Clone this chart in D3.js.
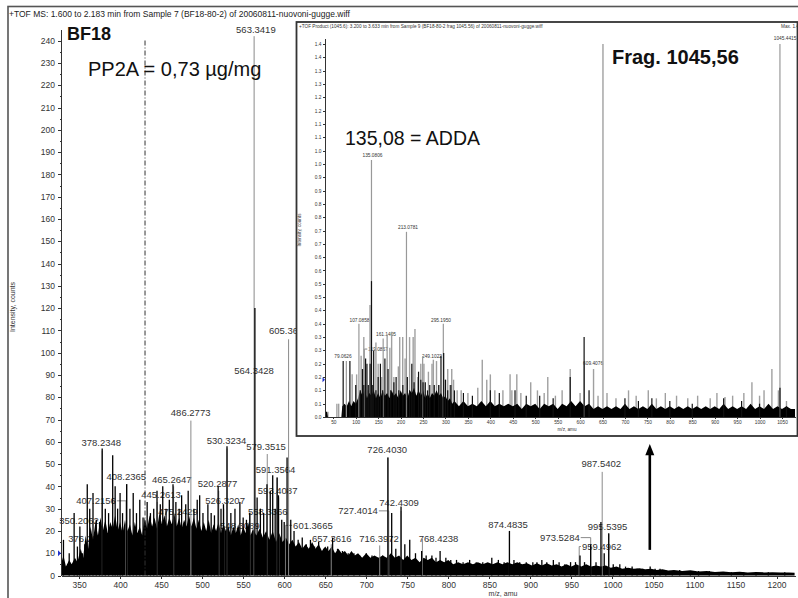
<!DOCTYPE html>
<html>
<head>
<meta charset="utf-8">
<script src="https://cdn.jsdelivr.net/npm/d3@7/dist/d3.min.js"></script>
<style>
body { margin: 0; background: #fff; }
text { font-family: "Liberation Sans", Arial, sans-serif; }
.axis path, .axis line { stroke: #333; shape-rendering: crispEdges; }
.axis text { fill: #333; }
</style>
</head>
<body>
<div class="container"></div>
<script>
// ---- main spectrum (TOF MS, BF18) ----
var mainXTicks = [350,400,450,500,550,600,650,700,750,800,850,900,950,1000,1050,1100,1150,1200];
var mainYTicks = [0,10,20,30,40,50,60,70,80,90,100,110,120,130,140,150,160,170,180,190,200,210,220,230,240];

// profile envelope [m/z, counts]
var mainProfile = [[328,5],[331,9],[334,4],[338,7],[341,5],[345,8],[348,6],[352,12],[355,8],[358,18],[361,12],[364,22],[367,16],[370,24],[373,18],[376,26],[379,20],[382,25],[385,19],[388,24],[391,21],[394,27],[397,20],[400,24],[403,19],[406,25],[409,20],[412,23],[415,18],[418,24],[421,19],[424,22],[427,18],[430,26],[433,21],[436,27],[439,22],[442,26],[445,21],[448,28],[451,23],[454,27],[457,22],[460,26],[463,23],[466,28],[469,22],[472,26],[475,21],[478,25],[481,22],[484,27],[487,22],[490,26],[493,21],[496,25],[499,20],[502,24],[505,20],[508,25],[511,19],[514,23],[517,20],[520,24],[523,19],[526,23],[529,20],[532,22],[535,18],[538,22],[541,19],[544,23],[547,18],[550,22],[553,19],[556,24],[559,18],[562,21],[566,18],[570,21],[574,17],[578,20],[582,16],[586,20],[590,15],[594,19],[598,15],[602,17],[606,14],[610,16],[614,13],[618,15],[622,12],[626,14],[630,12],[634,15],[638,12],[642,14],[646,11],[650,13],[654,11],[658,13],[662,10],[666,12],[670,10],[674,11],[678,9],[682,11],[686,9],[690,10],[695,8],[700,10],[705,8],[710,9],[715,8],[720,9],[725,8],[730,10],[735,8],[740,9],[745,7],[750,9],[755,7],[760,8],[765,6],[770,8],[775,7],[780,8],[785,6],[790,7],[795,6],[800,7],[806,5],[812,6],[818,5],[824,6],[830,5],[836,6],[842,5],[848,6],[854,5],[860,6],[866,5],[872,6],[878,5],[884,6],[890,5],[896,5.5],[902,4.5],[908,5.5],[914,4.5],[920,5.5],[926,4.5],[932,5],[938,4],[944,5],[950,4],[956,5],[962,4],[968,5],[974,4],[980,4.5],[986,4],[992,4.5],[998,3.5],[1005,4],[1012,3],[1019,3.5],[1026,3],[1033,3.2],[1040,2.8],[1047,3],[1054,2.5],[1061,2.8],[1068,2.2],[1075,2.5],[1085,2],[1095,2.3],[1105,1.8],[1115,2],[1125,1.6],[1135,1.8],[1145,1.5],[1155,1.7],[1165,1.4],[1175,1.6],[1185,1.4],[1195,1.5],[1205,1.3],[1215,1.4],[1222,1.2]];

// black profile peaks [m/z, counts]
var mainPeaks = [[331,16],[338,10],[344,28],[348,13],[351,22],[354,10],[357,14],[360,41],[363,30],[367,37],[371,25],[375,24],[378.2,57],[382,30],[386,28],[391,54],[394,40],[397,30],[400,37],[403,28],[408,41],[412,30],[416,37],[420,28],[424,34],[428,26],[433,33],[437,28],[441,30],[445,38],[449,32],[452,40],[456,30],[460,34],[464.5,41],[468,33],[472,30],[475,36],[480,32],[483,38],[490,30],[494,34],[497,36],[501,28],[507,32],[511,28],[515,27],[519.5,40],[523,30],[526,32],[530.3,58],[535,28],[540,30],[546,33],[550,26],[554,25],[558,28],[564.3,120],[567,35],[571,30],[575,28],[579,41],[583,38],[586,45],[589,30],[591.4,44],[593,36],[597,25],[600,24],[603.5,53],[608,25],[612,20],[617,16],[622,17],[627,14],[632,16],[637,13],[642,15],[648,12],[653,13],[659,17],[665,12],[671,11],[678,10],[685,10],[692,9],[700,10],[707,9],[714,8],[720,9],[726.4,53],[731,28],[736,12],[742.4,31],[747,14],[753,16],[760,10],[767.5,11],[773,9],[780,9],[785,8],[790,11],[797,8],[803,7],[810,7],[818,6],[826,7],[834,6],[842,6],[853,8],[861,7],[868,6],[874.5,20],[880,7],[887,6],[895,6],[903,6],[908,6],[914,7],[920,6],[928,7],[935,6],[942,5],[949,6],[955,6],[960.5,9],[966,6],[973.5,14],[980,6],[986,24],[990,10],[995.5,19],[1001,5],[1009,5],[1016,4],[1024,4],[1030,3],[1037,3],[1046,4],[1052,3],[1058,3],[1065,2.5],[1073,2],[1082,2.5],[1095,2],[1105,2],[1118,2],[1130,1.5],[1145,1.5],[1160,1.5],[1175,1.5],[1190,1.5],[1210,1.5]];

// peak labels [text, peak m/z, centroid height, label m/z, label height]
var mainLabels = [
  ["563.3419",563.34,242,565.5,243.5],
  ["564.3428",564.34,0,563.2,90.4],
  ["605.3609",605.36,106,605.5,108.4],
  ["486.2773",486.28,69.5,486,71.6],
  ["378.2348",378.23,56,377,58],
  ["530.3234",530.32,57,529.7,59],
  ["579.3515",579.35,54.5,577.8,56.3],
  ["591.3564",591.36,44,589.4,46],
  ["593.4087",593.41,35,592,36.6],
  ["726.4030",726.40,53,725.5,55],
  ["742.4309",742.43,29,740,31],
  ["727.4014",727.40,29,690,27.6],
  ["716.3972",716.40,13.5,715.5,15],
  ["768.4238",768.42,16.5,788,15],
  ["874.4835",874.48,19.5,872.7,21.3],
  ["973.5284",973.53,17,936,15.5],
  ["987.5402",987.54,46.5,986.4,48.7],
  ["995.5395",995.54,18.5,994,20.4],
  ["959.4962",959.50,13,987,11.5],
  ["408.2365",408.24,41,407.5,42.8],
  ["407.2156",407.22,33.5,370.7,32],
  ["445.2613",445.26,33,449.9,34.8],
  ["465.2647",465.26,40,463,41.5],
  ["520.2877",520.29,38,518.7,39.7],
  ["526.3207",526.32,30,528,32],
  ["558.3366",558.34,28.5,580,27],
  ["601.3665",601.37,22.5,635,20.9],
  ["657.3616",657.36,14,658,15],
  ["350.2062",350.21,0,350,23],
  ["376.2049",376.20,0,361,15],
  ["475.2429",475.24,0,470.6,27],
  ["548.3089",548.31,0,546,21]
];

var precursorMz = 1045.56;        // arrow
var arrowFrom = 11.5, arrowTo = 59;
var windowMz = 430.4;             // dash-dot marker
var mainMarkerInt = 10;

// ---- inset (product ion spectrum of 1045.56) ----
var insetXTicks = [50,100,150,200,250,300,350,400,450,500,550,600,650,700,750,800,850,900,950,1000,1050];
var insetYTicks = [0,0.05,0.1,0.15,0.2,0.25,0.3,0.35,0.4,0.45,0.5,0.55,0.6,0.65,0.7,0.75,0.8,0.85,0.9,0.95,1.0,1.05,1.1,1.15,1.2,1.25,1.3,1.35,1.4];
var insetYTickLabels = ["0.0","0.1","0.1","0.2","0.2","0.3","0.3","0.4","0.4","0.5","0.5","0.6","0.6","0.7","0.7","0.8","0.8","0.9","0.9","1.0","1.0","1.1","1.1","1.2","1.2","1.3","1.3","1.4","1.4"];

var insetProfile = [[31.5,0.02],[36,0.02],[38,0],[68,0],[70,0.04],[75,0.05],[80,0.04],[85,0.06],[90,0.04],[95,0.06],[100,0.05],[105,0.07],[110,0.1],[115,0.08],[120,0.1],[125,0.07],[130,0.09],[135,0.08],[140,0.1],[145,0.07],[150,0.09],[155,0.07],[160,0.1],[165,0.08],[170,0.09],[175,0.07],[180,0.1],[185,0.08],[190,0.09],[195,0.07],[200,0.1],[205,0.08],[210,0.09],[215,0.07],[220,0.1],[225,0.09],[230,0.11],[235,0.08],[240,0.1],[245,0.08],[250,0.1],[255,0.07],[260,0.09],[265,0.07],[270,0.09],[275,0.08],[280,0.1],[285,0.08],[290,0.09],[295,0.07],[300,0.08],[305,0.06],[310,0.07],[315,0.05],[320,0.06],[330,0.04],[340,0.06],[350,0.04],[360,0.05],[370,0.04],[380,0.06],[390,0.04],[400,0.06],[410,0.04],[420,0.05],[430,0.04],[440,0.05],[450,0.04],[460,0.05],[470,0.03],[480,0.05],[490,0.04],[500,0.05],[510,0.03],[520,0.05],[530,0.04],[540,0.05],[550,0.03],[560,0.05],[570,0.04],[580,0.06],[590,0.04],[600,0.06],[610,0.04],[620,0.05],[630,0.03],[640,0.04],[650,0.03],[660,0.04],[670,0.03],[680,0.04],[690,0.03],[700,0.05],[710,0.03],[720,0.04],[730,0.03],[740,0.04],[750,0.03],[760,0.05],[770,0.03],[780,0.04],[790,0.03],[800,0.04],[810,0.03],[820,0.04],[830,0.03],[840,0.04],[850,0.03],[860,0.04],[870,0.03],[880,0.04],[890,0.03],[900,0.04],[910,0.03],[920,0.05],[930,0.03],[940,0.04],[950,0.03],[960,0.04],[970,0.03],[980,0.05],[990,0.03],[1000,0.04],[1010,0.03],[1020,0.05],[1030,0.03],[1040,0.04],[1050,0.03],[1060,0.04],[1070,0.03],[1079,0.03]];

var insetBlackPeaks = [[72,0.21],[87,0.21],[100,0.12],[110,0.1],[115,0.18],[118,0.12],[122,0.22],[125,0.2],[128,0.12],[132,0.2],[135.08,0.51],[138,0.12],[140,0.25],[145,0.1],[150,0.15],[155,0.2],[160,0.1],[165,0.22],[172,0.18],[178,0.1],[185,0.13],[190,0.15],[196,0.1],[205,0.12],[215,0.15],[220,0.1],[225,0.2],[230,0.13],[240,0.17],[245,0.14],[250,0.13],[255,0.13],[260,0.1],[265,0.12],[275,0.12],[285,0.12],[290,0.23],[296,0.24],[300,0.14],[305,0.1],[312,0.12],[320,0.1],[340,0.09],[360,0.08],[400,0.1],[420,0.09],[455,0.1],[480,0.08],[510,0.08],[540,0.07],[578,0.15],[609,0.3],[620,0.1],[700,0.07],[730,0.06],[760,0.07],[800,0.06],[850,0.05],[920,0.07],[960,0.06],[1000,0.05],[1045.56,0.11],[1060,0.04]];

var insetGrayPeaks = [[651,1.4],[38,0.02],[58,0.05],[62,0.05],[92,0.16],[102,0.16],[112,0.23],[118,0.3],[128,0.1],[131.8,0.42],[145,0.28],[150,0.2],[158,0.15],[170,0.31],[176,0.26],[180,0.32],[185,0.15],[195,0.19],[198,0.3],[204.7,0.3],[210,0.22],[220,0.3],[228,0.3],[232,0.33],[238,0.15],[245,0.2],[252,0.2],[262,0.17],[270,0.2],[273,0.215],[280,0.21],[285,0.12],[300,0.14],[305,0.18],[310,0.12],[314,0.18],[318,0.14],[326,0.1],[335,0.1],[350,0.09],[372,0.11],[382,0.215],[392,0.14],[400,0.16],[410,0.1],[428,0.1],[444,0.16],[448,0.1],[459,0.16],[468,0.09],[490,0.13],[505,0.1],[520,0.09],[528,0.15],[545,0.08],[560,0.1],[578,0.18],[600,0.09],[630,0.18],[640,0.08],[660,0.09],[680,0.07],[708,0.1],[725,0.08],[752,0.1],[770,0.07],[790,0.09],[815,0.08],[840,0.07],[862,0.08],[890,0.07],[905,0.09],[923,0.075],[940,0.08],[965,0.09],[983,0.13],[1000,0.08],[1010,0.1],[1027.5,0.18],[1042,0.1],[1060,0.06]];

var insetLabels = [
  ["135.0806",135.08,0.965,137.4,0.976],
  ["213.0781",213.08,0.695,216.5,0.704],
  ["1045.4415",1045.44,1.40,1057,1.415],
  ["79.0626",79.06,0.21,71.6,0.22],
  ["107.0858",107.09,0.35,108.4,0.357],
  ["119.0857",119.09,0.255,149.7,0.248],
  ["161.1405",161.14,0.295,167.5,0.304],
  ["295.1950",295.20,0.35,290,0.357],
  ["249.1022",249.10,0.228,270,0.22],
  ["609.4076",609.41,0.205,629,0.195]
];
var insetMarkerInt = 0.14;

var WIDTH = 798, HEIGHT = 598;
var svg, x, y, ix, iy;

var translate = function(a, b){
	return "translate(" + a + "," + b + ")";
};

var drawSticks = function(g, data, xs, ys, color, width){
	g.selectAll(null).data(data).enter().append('line')
		.attr('x1', function(d){ return xs(d[0]); })
		.attr('x2', function(d){ return xs(d[0]); })
		.attr('y1', ys(0))
		.attr('y2', function(d){ return ys(d[1]); })
		.attr('stroke', color)
		.attr('stroke-width', width);
};

var drawLabels = function(g, rows, xs, ys, size){
	rows.forEach(function(r){
		var t = g.append('text')
			.attr('x', xs(r[3]))
			.attr('y', ys(r[4]))
			.attr('text-anchor', 'middle')
			.attr('font-size', size)
			.attr('fill', '#333')
			.text(r[0]);
		r.w = t.node().getComputedTextLength();
	});
};

var drawLeaders = function(g, rows, xs, ys, color, width){
	rows.forEach(function(r){
		if (r[2] <= 0) return;
		var px = xs(r[1]), lx = xs(r[3]), top = ys(r[2]);
		g.append('line').attr('x1', px).attr('x2', px)
			.attr('y1', ys(0)).attr('y2', top)
			.attr('stroke', color).attr('stroke-width', width);
		if (Math.abs(px - lx) > r.w / 2) {
			var edge = px > lx ? lx + r.w / 2 + 1 : lx - r.w / 2 - 1;
			g.append('line').attr('x1', edge).attr('x2', px)
				.attr('y1', top).attr('y2', top)
				.attr('stroke', color).attr('stroke-width', width);
		}
	});
};

var loadChart = function(){
	svg = d3.select('.container').append('svg')
		.attr('width', WIDTH)
		.attr('height', HEIGHT);

	svg.append('rect').attr('width', WIDTH).attr('height', HEIGHT).attr('fill', '#fff');
	svg.append('rect').attr('x', 8).attr('y', 6.5).attr('width', 800).attr('height', 600)
		.attr('fill', 'none').attr('stroke', '#555').attr('stroke-width', 1.6);

	svg.append('text').attr('x', 9).attr('y', 17).attr('font-size', 8.5).attr('fill', '#222')
		.text('+TOF MS: 1.600 to 2.183 min from Sample 7 (BF18-80-2) of 20060811-nuovoni-gugge.wiff');

	x = d3.scaleLinear().domain([328, 1222.5]).range([61, 795]);
	y = d3.scaleLinear().domain([0, 245]).range([575.5, 29.5]);

	var main = svg.append('g');

	drawLabels(main, mainLabels, x, y, 9.5);

	var area = d3.area()
		.x(function(d){ return x(d[0]); })
		.y0(y(0))
		.y1(function(d){ return y(d[1]); });
	main.append('path').attr('d', area(mainProfile)).attr('fill', '#000');

	drawLeaders(main, mainLabels, x, y, '#8a8a8a', 1);
	drawSticks(main, mainPeaks, x, y, '#000', 1.3);

	// axes
	var yAxis = d3.axisLeft(y).tickValues(mainYTicks).tickSize(3).tickSizeOuter(0).tickPadding(3);
	var ga = svg.append('g').attr('class', 'axis').attr('transform', translate(61, 0)).call(yAxis);
	ga.selectAll('text').attr('font-size', 8.5);
	svg.append('g').attr('class', 'axis').attr('transform', translate(61, 0))
		.call(d3.axisLeft(y).tickValues(mainYTicks.map(function(v){ return v + 5; }).filter(function(v){ return v < 245; }))
			.tickSize(1.5).tickSizeOuter(0).tickFormat(''))
		.select('.domain').remove();

	var xAxis = d3.axisBottom(x).tickValues(mainXTicks).tickSize(3).tickSizeOuter(0).tickPadding(3)
		.tickFormat(d3.format('d'));
	var gx = svg.append('g').attr('class', 'axis').attr('transform', translate(0, y(0))).call(xAxis);
	gx.selectAll('text').attr('font-size', 8.5);
	svg.append('g').attr('class', 'axis').attr('transform', translate(0, y(0)))
		.call(d3.axisBottom(x).tickValues(mainXTicks.map(function(v){ return v - 25; }).filter(function(v){ return v > 328; }))
			.tickSize(1.5).tickSizeOuter(0).tickFormat(''))
		.select('.domain').remove();

	svg.append('text').attr('transform', translate(15, 307) + ' rotate(-90)')
		.attr('text-anchor', 'middle').attr('font-size', 7).attr('fill', '#333')
		.text('Intensity, counts');
	svg.append('text').attr('x', 503).attr('y', 596).attr('text-anchor', 'middle')
		.attr('font-size', 7).attr('fill', '#333').text('m/z, amu');

	svg.append('path')
		.attr('d', 'M' + (x.range()[0] - 3) + ',' + (y(mainMarkerInt) - 3) + 'l3,3l-3,3z')
		.attr('fill', '#2233cc');

	// dash-dot window marker
	svg.append('line').attr('x1', x(windowMz)).attr('x2', x(windowMz))
		.attr('y1', y(0)).attr('y2', y(240.5))
		.attr('stroke', '#333').attr('stroke-width', 1).attr('stroke-dasharray', '5,2,1,2');

	// precursor arrow
	var ax = x(precursorMz);
	svg.append('line').attr('x1', ax).attr('x2', ax)
		.attr('y1', y(arrowFrom)).attr('y2', y(arrowTo - 4))
		.attr('stroke', '#000').attr('stroke-width', 2.6);
	svg.append('path')
		.attr('d', 'M' + (ax - 4.5) + ',' + y(arrowTo - 5) + 'L' + (ax + 4.5) + ',' + y(arrowTo - 5) + 'L' + ax + ',' + y(arrowTo) + 'Z')
		.attr('fill', '#000');

	svg.append('text').attr('x', 67).attr('y', 40).attr('font-size', 18).attr('font-weight', 'bold')
		.attr('fill', '#111').text('BF18');
	svg.append('text').attr('x', 88).attr('y', 76).attr('font-size', 20)
		.attr('fill', '#111').text('PP2A = 0,73 µg/mg');

	createInset();
};

var createInset = function(){
	var g = svg.append('g');
	g.append('rect').attr('x', 296.5).attr('y', 22).attr('width', 501).attr('height', 414)
		.attr('fill', '#fff').attr('stroke', '#333').attr('stroke-width', 1.8);

	g.append('text').attr('x', 299).attr('y', 28).attr('font-size', 4.7).attr('fill', '#333')
		.text('+TOF Product (1045.6): 3.200 to 3.633 min from Sample 9 (BF18-80-2 frag 1045.56) of 20060811-nuovoni-gugge.wiff');
	g.append('text').attr('x', 781).attr('y', 28).attr('font-size', 4.7).attr('fill', '#333')
		.text('Max. 1.4');

	ix = d3.scaleLinear().domain([31.5, 1079]).range([325, 795]);
	iy = d3.scaleLinear().domain([0, 1.42]).range([417, 38.7]);

	drawLabels(g, insetLabels, ix, iy, 4.8);

	var area = d3.area()
		.x(function(d){ return ix(d[0]); })
		.y0(iy(0))
		.y1(function(d){ return iy(d[1]); });

	drawSticks(g, insetGrayPeaks, ix, iy, '#a0a0a0', 1.4);
	g.append('path').attr('d', area(insetProfile)).attr('fill', '#000');
	drawLeaders(g, insetLabels, ix, iy, '#999', 1.2);
	drawSticks(g, insetBlackPeaks, ix, iy, '#111', 1.2);

	var yAxis = d3.axisLeft(iy).tickValues(insetYTicks).tickSize(2).tickSizeOuter(0).tickPadding(1.5)
		.tickFormat(function(d, i){ return insetYTickLabels[i]; });
	var gy = g.append('g').attr('class', 'axis').attr('transform', translate(325, 0)).call(yAxis);
	gy.selectAll('text').attr('font-size', 4.8);

	var xAxis = d3.axisBottom(ix).tickValues(insetXTicks).tickSize(2).tickSizeOuter(0).tickPadding(2)
		.tickFormat(d3.format('d'));
	var gx = g.append('g').attr('class', 'axis').attr('transform', translate(0, iy(0))).call(xAxis);
	gx.selectAll('text').attr('font-size', 4.8);

	g.append('text').attr('transform', translate(301, 230) + ' rotate(-90)')
		.attr('text-anchor', 'middle').attr('font-size', 4.6).attr('fill', '#333')
		.text('Intensity, counts');
	g.append('text').attr('x', 567).attr('y', 431).attr('text-anchor', 'middle')
		.attr('font-size', 4.6).attr('fill', '#333').text('m/z, amu');

	g.append('path')
		.attr('d', 'M' + (ix.range()[0] - 2.5) + ',' + (iy(insetMarkerInt) - 2.5) + 'l2.5,2.5l-2.5,2.5z')
		.attr('fill', '#2233cc');

	g.append('text').attr('x', 345).attr('y', 145).attr('font-size', 19.5)
		.attr('fill', '#111').text('135,08 = ADDA');
	g.append('text').attr('x', 612).attr('y', 64).attr('font-size', 20).attr('font-weight', 'bold')
		.attr('fill', '#111').text('Frag. 1045,56');
};

window.onload = loadChart;
</script>
</body>
</html>
